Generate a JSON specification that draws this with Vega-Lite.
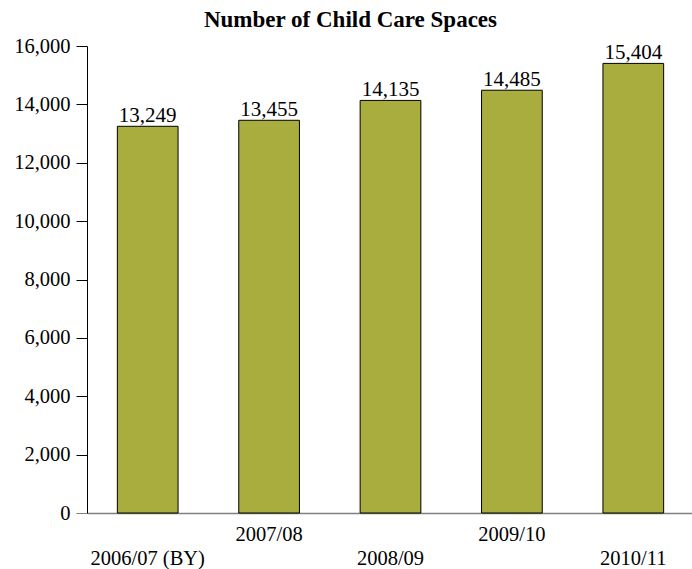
{
  "$schema": "https://vega.github.io/schema/vega-lite/v6.json",
  "width": 607,
  "height": 467,
  "autosize": {"type": "none"},
  "padding": {"left": 87, "top": 46, "right": 0, "bottom": 56},
  "background": "white",
  "title": {
    "text": "Number of Child Care Spaces",
    "font": "Liberation Serif",
    "fontSize": 23,
    "fontWeight": "bold",
    "color": "black",
    "anchor": "middle",
    "dx": -40,
    "offset": 4
  },
  "data": {
    "values": [
      {"year": "2006/07 (BY)", "spaces": 13249},
      {"year": "2007/08", "spaces": 13455},
      {"year": "2008/09", "spaces": 14135},
      {"year": "2009/10", "spaces": 14485},
      {"year": "2010/11", "spaces": 15404}
    ]
  },
  "encoding": {
    "x": {
      "field": "year",
      "type": "nominal",
      "sort": null,
      "scale": {"paddingInner": 0.5, "paddingOuter": 0.25},
      "axis": {
        "title": null,
        "labelAngle": 0,
        "ticks": false,
        "domainColor": "#808080",
        "domainWidth": 1.5,
        "labelFont": "Liberation Serif",
        "labelFontSize": 20.5,
        "labelColor": "black",
        "labelBaseline": "top",
        "labelPadding": {
          "condition": {"test": "indexof(['2006/07 (BY)','2008/09','2010/11'], datum.value) >= 0", "value": 35},
          "value": 11
        }
      }
    },
    "y": {
      "field": "spaces",
      "type": "quantitative",
      "scale": {"domain": [0, 16000], "nice": false},
      "axis": {
        "title": null,
        "values": [0, 2000, 4000, 6000, 8000, 10000, 12000, 14000, 16000],
        "format": ",.0f",
        "grid": false,
        "domainColor": "black",
        "tickColor": {"condition": {"test": "datum.value === 0", "value": "#808080"}, "value": "black"},
        "tickSize": 11,
        "labelPadding": 6,
        "labelFont": "Liberation Serif",
        "labelFontSize": 20.5,
        "labelColor": "black"
      }
    }
  },
  "layer": [
    {
      "mark": {"type": "bar", "color": "#A8AD3E", "stroke": "black", "strokeWidth": 1}
    },
    {
      "mark": {"type": "text", "baseline": "alphabetic", "dy": -4, "font": "Liberation Serif", "fontSize": 21, "color": "black"},
      "encoding": {"text": {"field": "spaces", "type": "quantitative", "format": ",.0f"}}
    }
  ],
  "config": {"view": {"stroke": null}}
}
